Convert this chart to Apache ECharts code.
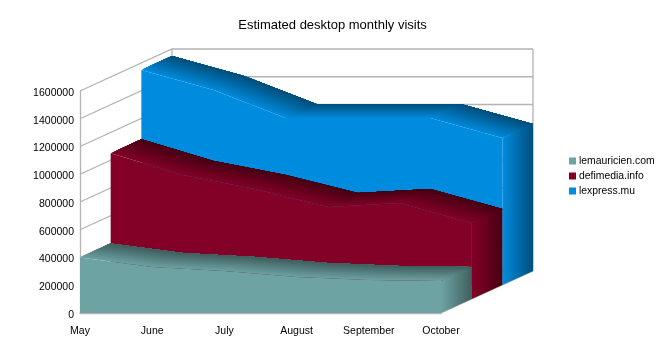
<!DOCTYPE html>
<html>
<head>
<meta charset="utf-8">
<script src="https://cdn.jsdelivr.net/npm/echarts@6/dist/echarts.min.js"></script>
<style>
  html, body { margin: 0; padding: 0; background: #fff; }
  #chart { width: 665px; height: 355px; }
</style>
</head>
<body>
<div id="chart"></div>
<script>
const months = ['May', 'June', 'July', 'August', 'September', 'October']
const gridValues = [0, 200000, 400000, 600000, 800000, 1000000, 1200000, 1400000, 1600000]
const lemauricien = [400000, 331000, 303000, 260000, 238000, 231000]
const defimedia = [1050000, 894000, 793000, 663000, 692000, 548000]
const lexpress = [1550000, 1405000, 1204000, 1204000, 1204000, 1060000]

// one layer of depth in pixels, three layers in all
const DX = 92 / 3
const DY = -14
const STRIPS = 24
const FONT = '"Liberation Sans", Arial, sans-serif'

function shift(p, layer) {
  return [p[0] + DX * layer, p[1] + DY * layer]
}

function mix(from, to, t) {
  const c = from.map((v, i) => Math.round(v + (to[i] - v) * t))
  return 'rgb(' + c.join(',') + ')'
}

function layerSeries(name, values, color, dark, layer) {
  const css = mix(color, color, 0)
  return {
    type: 'custom',
    name: name,
    silent: true,
    itemStyle: { color: css },
    data: values.map((v, i) => [i, v]),
    encode: { x: 0, y: 1 },
    renderItem: function (params, api) {
      // the whole block is drawn once, so the faces have no seams
      if (params.dataIndex !== 0) return null
      const tops = values.map((v, i) => shift(api.coord([i, v]), layer))
      const baseL = shift(api.coord([0, 0]), layer)
      const baseR = shift(api.coord([values.length - 1, 0]), layer)
      const last = tops[tops.length - 1]
      const children = []
      // top face: each strip covers the rest of the depth, painted front to back
      for (let k = 0; k < STRIPS; k++) {
        const t = k / STRIPS
        const front = tops.map((p) => shift(p, t))
        const back = tops.map((p) => shift(p, 1)).reverse()
        children.push({
          type: 'polygon',
          shape: { points: front.concat(back) },
          style: { fill: mix(color, dark, (k + 1) / STRIPS) }
        })
      }
      // right hand side
      children.push({
        type: 'polygon',
        shape: { points: [last, shift(last, 1), shift(baseR, 1), baseR] },
        style: {
          fill: new echarts.graphic.LinearGradient(last[0], 0, last[0] + DX, 0, [
            { offset: 0, color: css },
            { offset: 1, color: mix(dark, dark, 0) }
          ], true)
        }
      })
      // front face
      children.push({
        type: 'polygon',
        shape: { points: tops.concat([baseR, baseL]) },
        style: { fill: css }
      })
      return { type: 'group', children: children }
    }
  }
}

const wallSeries = {
  type: 'custom',
  silent: true,
  data: gridValues.map((v) => [0, v]),
  encode: { x: 0, y: 1 },
  renderItem: function (params, api) {
    const v = api.value(1)
    const a = api.coord([0, v])
    const b = api.coord([months.length - 1, v])
    const style = { stroke: '#b3b3b3', lineWidth: 1.3, fill: null }
    const children = [{
      type: 'polyline',
      shape: { points: [a, shift(a, 3), shift(b, 3)] },
      style: style
    }]
    if (v === 0) {
      const top = api.coord([0, gridValues[gridValues.length - 1]])
      const topRight = api.coord([months.length - 1, gridValues[gridValues.length - 1]])
      children.push({ type: 'line', shape: { x1: shift(top, 3)[0], y1: shift(top, 3)[1], x2: shift(a, 3)[0], y2: shift(a, 3)[1] }, style: style })
      children.push({ type: 'line', shape: { x1: shift(topRight, 3)[0], y1: shift(topRight, 3)[1], x2: shift(b, 3)[0], y2: shift(b, 3)[1] }, style: style })
      children.push({ type: 'line', shape: { x1: b[0], y1: b[1], x2: shift(b, 3)[0], y2: shift(b, 3)[1] }, style: style })
    }
    return { type: 'group', children: children }
  }
}

const mychart = echarts.init(document.getElementById('chart'), null, { renderer: 'canvas' })

mychart.setOption({
  animation: false,
  backgroundColor: '#fff',
  title: {
    text: 'Estimated desktop monthly visits',
    left: 'center',
    top: 14,
    textStyle: { color: '#000', fontFamily: FONT, fontWeight: 'normal', fontSize: 13 }
  },
  legend: {
    orient: 'vertical',
    left: 564,
    top: 151,
    itemWidth: 7,
    itemHeight: 7,
    itemGap: 5,
    selectedMode: false,
    icon: 'rect',
    data: ['lemauricien.com', 'defimedia.info', 'lexpress.mu'],
    textStyle: { color: '#000', fontFamily: FONT, fontSize: 10.4, padding: [0, 0, 0, -2] }
  },
  grid: { left: 80, right: 224, top: 91, bottom: 42 },
  xAxis: {
    type: 'category',
    data: months,
    boundaryGap: false,
    axisTick: { show: false },
    axisLine: { lineStyle: { color: '#b3b3b3', width: 1.3 } },
    axisLabel: { interval: 0, color: '#000', fontFamily: FONT, fontSize: 10.5, margin: 13 }
  },
  yAxis: {
    type: 'value',
    min: 0,
    max: 1600000,
    interval: 200000,
    splitLine: { show: false },
    axisTick: { show: false },
    axisLine: { show: true, lineStyle: { color: '#b3b3b3', width: 1.3 } },
    axisLabel: {
      margin: 6,
      formatter: function (v) { return '{n|' + v + '}' },
      rich: {
        n: { color: '#000', fontFamily: FONT, fontSize: 10.5, padding: [4, 0, 0, 0] }
      }
    }
  },
  series: [
    wallSeries,
    layerSeries('lexpress.mu', lexpress, [0, 140, 222], [0, 79, 124], 2),
    layerSeries('defimedia.info', defimedia, [131, 0, 38], [71, 0, 20], 1),
    layerSeries('lemauricien.com', lemauricien, [110, 163, 163], [64, 95, 95], 0)
  ]
})
</script>
</body>
</html>
